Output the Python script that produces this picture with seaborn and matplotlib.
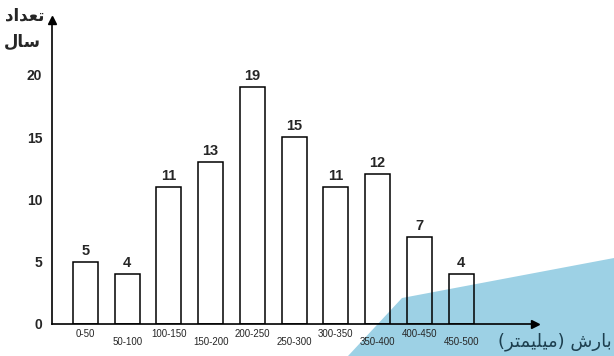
import matplotlib
matplotlib.use("Agg")
import matplotlib.pyplot as plt
from matplotlib.patches import Polygon
import pandas as pd
import seaborn as sns

# rainfall classes (mm) and number of years in each
CATEGORIES = ["0-50", "50-100", "100-150", "150-200", "200-250",
              "250-300", "300-350", "350-400", "400-450", "450-500"]
COUNTS = [5, 4, 11, 13, 19, 15, 11, 12, 7, 4]
Y_TICKS = [0, 5, 10, 15, 20]

# Persian labels, pre-shaped into presentation forms in visual order
# (matplotlib has no bidi / arabic shaping)
Y_LABEL_TOP = "\uFEA9\uFE8D\uFEAA\uFECC\uFE97"          # تعداد
Y_LABEL_BOTTOM = "\uFEDD\uFE8E\uFEB3"                    # سال
X_LABEL = "(\uFEAE\uFE98\uFEE4\uFEF4\uFEE0\uFEF4\uFEE3) \uFEB5\uFEAD\uFE8E\uFE91"  # بارش (میلیمتر)

sns.set_theme(style="white")
plt.rcParams["font.family"] = ["Liberation Sans", "DejaVu Sans"]

df = pd.DataFrame({"range": CATEGORIES, "count": COUNTS})

fig = plt.figure(figsize=(6.14, 3.56), dpi=100)
ax = fig.add_axes([0.0847, 0.0899, 0.7866, 0.854])
ax.patch.set_visible(False)

# light blue shape in the lower-right corner of the scan
fig.patches.append(Polygon([(348 / 614, 0), (402 / 614, 58 / 356), (1, 98 / 356), (1, 0)],
                           closed=True, transform=fig.transFigure,
                           facecolor="#9dd1e5", edgecolor="none", zorder=-1))

sns.barplot(data=df, x="range", y="count", order=CATEGORIES, width=0.6,
            fill=False, color="black", linewidth=1.1, ax=ax)
for patch in ax.patches:
    patch.set_edgecolor("black")

ax.bar_label(ax.containers[0], padding=3, fontsize=10.5, fontweight="bold")

ax.set_xlim(-0.80, 10.77)
ax.set_ylim(0, 24.4)

for side in ["top", "right"]:
    ax.spines[side].set_visible(False)
for side in ["left", "bottom"]:
    ax.spines[side].set_color("black")
    ax.spines[side].set_linewidth(1.2)

# axis arrows
ax.plot(1, 0, ">", color="black", markersize=6, transform=ax.transAxes, clip_on=False)
ax.plot(0, 1, "^", color="black", markersize=6, transform=ax.transAxes, clip_on=False)

ax.set_yticks(Y_TICKS)
ax.set_yticklabels([str(t) for t in Y_TICKS], fontsize=10, fontweight="bold")
ax.tick_params(axis="y", length=0, pad=7)

# staggered category labels
ax.set_xticks(range(len(CATEGORIES)))
ax.set_xticklabels([])
ax.tick_params(axis="x", length=0)
for i, label in enumerate(CATEGORIES):
    offset = -7 if i % 2 == 0 else -13
    ax.annotate(label, xy=(i, 0), xycoords=("data", "axes fraction"),
                xytext=(0, offset), textcoords="offset points",
                ha="center", va="center", fontsize=7)

ax.set_xlabel("")
ax.set_ylabel("")

fig.text(45 / 614, 1 - 15 / 356, Y_LABEL_TOP, ha="right", va="center",
         fontsize=12, fontweight="bold", family=["DejaVu Sans"])
fig.text(41 / 614, 1 - 42 / 356, Y_LABEL_BOTTOM, ha="right", va="center",
         fontsize=12, fontweight="bold", family=["DejaVu Sans"])
fig.text(612 / 614, 1 - 342 / 356, X_LABEL, ha="right", va="center",
         fontsize=13, color="#1d3f4f", family=["DejaVu Sans"])

fig.savefig("out.png", dpi=100)
